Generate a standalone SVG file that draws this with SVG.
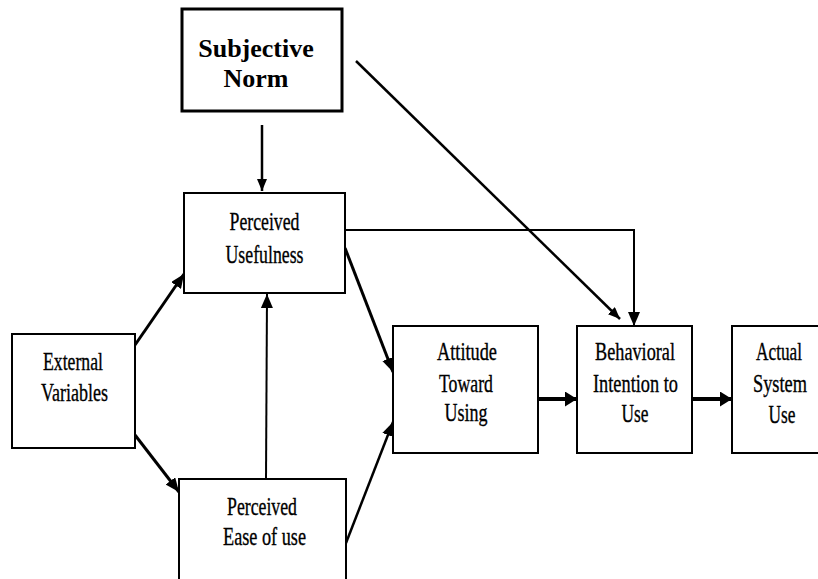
<svg xmlns="http://www.w3.org/2000/svg" width="818" height="579" viewBox="0 0 818 579">
  <style>
    .box { fill: #ffffff; stroke: #000000; stroke-width: 2; }
    .box-heavy { fill: #ffffff; stroke: #000000; stroke-width: 3; }
    .lbl { font-family: "Liberation Serif", "Times New Roman", serif; font-size: 26px; fill: #000000; stroke: #000000; stroke-width: 0.35; text-anchor: middle; }
    .lbl-bold { font-family: "Liberation Serif", "Times New Roman", serif; font-size: 26px; font-weight: bold; fill: #000000; text-anchor: middle; }
    .wire { fill: none; stroke: #000000; stroke-linecap: butt; stroke-linejoin: miter; }
  </style>
  <defs>
    <marker id="arrow" markerUnits="userSpaceOnUse" markerWidth="15" markerHeight="12" refX="14" refY="6" orient="auto">
      <path d="M0,0 L14,6 L0,12 z" fill="#000000"/>
    </marker>
    <marker id="arrow-wide" markerUnits="userSpaceOnUse" markerWidth="13" markerHeight="15" refX="12" refY="7.5" orient="auto">
      <path d="M0,0 L12,7.5 L0,15 z" fill="#000000"/>
    </marker>
    <marker id="arrow-sm" markerUnits="userSpaceOnUse" markerWidth="13" markerHeight="10" refX="12" refY="5" orient="auto">
      <path d="M0,0 L12,5 L0,10 z" fill="#000000"/>
    </marker>
  </defs>

  <!-- connectors -->
  <g id="connectors">
    <line class="wire" x1="262" y1="125" x2="262" y2="191" stroke-width="2.5" marker-end="url(#arrow-sm)"/>
    <line class="wire" x1="356" y1="61" x2="620" y2="319" stroke-width="2.5" marker-end="url(#arrow-sm)"/>
    <polyline class="wire" points="345,230 634,230 634,326" stroke-width="2" marker-end="url(#arrow)"/>
    <line class="wire" x1="135" y1="345" x2="184" y2="274" stroke-width="3" marker-end="url(#arrow)"/>
    <line class="wire" x1="135" y1="435" x2="179" y2="492" stroke-width="3" marker-end="url(#arrow)"/>
    <line class="wire" x1="266" y1="479" x2="267" y2="294" stroke-width="2" marker-end="url(#arrow)"/>
    <line class="wire" x1="345" y1="248" x2="393" y2="372" stroke-width="3" marker-end="url(#arrow)"/>
    <line class="wire" x1="346" y1="543" x2="393" y2="422" stroke-width="2.5" marker-end="url(#arrow)"/>
    <line class="wire" x1="538" y1="399" x2="577" y2="399" stroke-width="4" marker-end="url(#arrow-wide)"/>
    <line class="wire" x1="692" y1="399" x2="732" y2="399" stroke-width="4" marker-end="url(#arrow-wide)"/>
  </g>

  <!-- nodes; condensed labels are a serif face squeezed horizontally to 72% -->
  <g id="subjective-norm">
    <rect class="box-heavy" x="182" y="9" width="160" height="102"/>
    <text class="lbl-bold" x="256" y="57">Subjective</text>
    <text class="lbl-bold" x="256" y="87">Norm</text>
  </g>

  <g id="perceived-usefulness">
    <rect class="box" x="184" y="193" width="161" height="100"/>
    <text class="lbl" transform="translate(264.5,230) scale(0.72,1)" textLength="97.2" lengthAdjust="spacingAndGlyphs">Perceived</text>
    <text class="lbl" transform="translate(264.5,263) scale(0.72,1)" textLength="108.3" lengthAdjust="spacingAndGlyphs">Usefulness</text>
  </g>

  <g id="external-variables">
    <rect class="box" x="12" y="334" width="123" height="114"/>
    <text class="lbl" transform="translate(73,370) scale(0.72,1)" textLength="83.3" lengthAdjust="spacingAndGlyphs">External</text>
    <text class="lbl" transform="translate(74.5,401) scale(0.72,1)" textLength="93.1" lengthAdjust="spacingAndGlyphs">Variables</text>
  </g>

  <g id="perceived-ease-of-use">
    <rect class="box" x="179" y="479" width="167" height="102"/>
    <text class="lbl" transform="translate(262,515) scale(0.72,1)" textLength="97.2" lengthAdjust="spacingAndGlyphs">Perceived</text>
    <text class="lbl" transform="translate(264.5,545) scale(0.72,1)" textLength="115.3" lengthAdjust="spacingAndGlyphs">Ease of use</text>
  </g>

  <g id="attitude-toward-using">
    <rect class="box" x="393" y="326" width="145" height="127"/>
    <text class="lbl" transform="translate(467,360) scale(0.72,1)" textLength="83.3" lengthAdjust="spacingAndGlyphs">Attitude</text>
    <text class="lbl" transform="translate(466,392) scale(0.72,1)" textLength="75" lengthAdjust="spacingAndGlyphs">Toward</text>
    <text class="lbl" transform="translate(466,421) scale(0.72,1)" textLength="59.7" lengthAdjust="spacingAndGlyphs">Using</text>
  </g>

  <g id="behavioral-intention">
    <rect class="box" x="577" y="326" width="115" height="127"/>
    <text class="lbl" transform="translate(635,360) scale(0.72,1)" textLength="111.1" lengthAdjust="spacingAndGlyphs">Behavioral</text>
    <text class="lbl" transform="translate(635.5,392) scale(0.72,1)" textLength="118.1" lengthAdjust="spacingAndGlyphs">Intention to</text>
    <text class="lbl" transform="translate(635,422) scale(0.72,1)" textLength="37.5" lengthAdjust="spacingAndGlyphs">Use</text>
  </g>

  <g id="actual-system-use">
    <rect class="box" x="732" y="326" width="88" height="127"/>
    <text class="lbl" transform="translate(779,360) scale(0.72,1)" textLength="63.9" lengthAdjust="spacingAndGlyphs">Actual</text>
    <text class="lbl" transform="translate(780,392) scale(0.72,1)" textLength="75" lengthAdjust="spacingAndGlyphs">System</text>
    <text class="lbl" transform="translate(782,423) scale(0.72,1)" textLength="37.5" lengthAdjust="spacingAndGlyphs">Use</text>
  </g>
</svg>
